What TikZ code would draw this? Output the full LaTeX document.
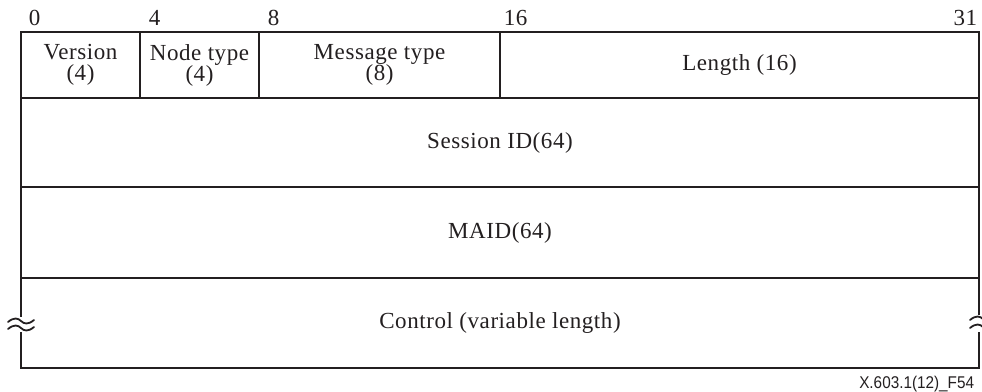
\documentclass[tikz,border=0pt]{standalone}
\usepackage{fontspec}
\setmainfont[LetterSpace=2.5]{Liberation Serif}
\newfontfamily\figfont[FakeStretch=0.9]{Liberation Sans}
\definecolor{ink}{HTML}{231F20}
\begin{document}
\begin{tikzpicture}[x=1pt,y=-1pt,line width=1.8pt,color=ink,
  field/.style={draw,rectangle,inner sep=0pt,outer sep=0pt,align=center,
    font=\fontsize{23}{21}\selectfont},
  bitnum/.style={font=\fontsize{23}{24}\selectfont,inner sep=0pt,anchor=base west},
  wave/.style={line width=1.8pt,line cap=round},
  breakwave/.pic={\draw[wave] (-13,1) .. controls (-7,-4) and (-3,-3) .. (0,0) .. controls (3,3) and (7,4) .. (13,-1);}]
\useasboundingbox (0,0) rectangle (982,391);
\clip (0,0) rectangle (982,391);
% bit numbers
\node[bitnum] (n0) at (28,25) {0};
\node[bitnum] (n4) at (148,25) {4};
\node[bitnum] (n8) at (267,25) {8};
\node[bitnum] (n16) at (503,25) {16};
\node[bitnum,anchor=base east] (n31) at (978,25) {31};
% fields
\node[field,minimum width=119pt,minimum height=66pt] (ver) at (80.5,65) {Version\\(4)};
\node[field,minimum width=119pt,minimum height=66pt] (nt) at (199.5,65) {Node type\\(4)};
\node[field,minimum width=241pt,minimum height=66pt] (mt) at (379.5,65) {Message type\\(8)};
\node[field,minimum width=479pt,minimum height=66pt] (len) at (739.5,65) {Length (16)};
\node[field,minimum width=958pt,minimum height=89pt] (sid) at (500,142.5) {Session ID(64)};
\node[field,minimum width=958pt,minimum height=91pt] (maid) at (500,232.5) {MAID(64)};
\node[field,draw=none,minimum width=958pt,minimum height=90pt] (ctl) at (500,323) {Control (variable length)};
% control box with broken sides
\draw (ctl.north west) -- ([yshift=6pt]ctl.west);
\draw ([yshift=-9pt]ctl.west) -- (ctl.south west) -- (ctl.south east) -- ([yshift=-9pt]ctl.east);
\draw ([yshift=8pt]ctl.east) -- (ctl.north east);
\pic at ([yshift=2pt]ctl.west) {breakwave};
\pic at ([yshift=-5pt]ctl.west) {breakwave};
\pic at ([xshift=4pt,yshift=4pt]ctl.east) {breakwave};
\pic at ([xshift=4pt,yshift=-4pt]ctl.east) {breakwave};
% figure label
\node[font=\figfont\fontsize{17}{20}\selectfont,anchor=base east,inner sep=0pt] (fig) at (975,388) {X.603.1(12)\_F54};
\end{tikzpicture}
\end{document}
